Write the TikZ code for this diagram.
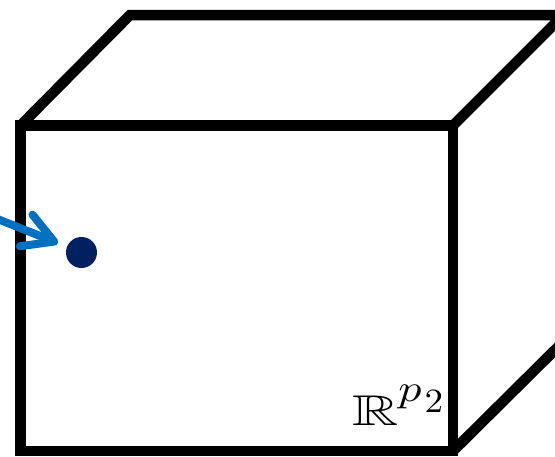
\documentclass[tikz,border=0pt]{standalone}
\usepackage{amssymb}
\usepackage{graphicx}
\usetikzlibrary{arrows.meta}
\definecolor{arrowblue}{HTML}{0070C0}
\definecolor{dotnavy}{HTML}{002060}
\begin{document}
\begin{tikzpicture}[x=1pt,y=-1pt,
  edge/.style={line width=10.5pt, line join=miter, black},
  pointer/.style={line width=8pt, arrowblue, line cap=round,
    -{Straight Barb[length=30pt, width=34pt, round]}, shorten >=10pt},
  datadot/.style={circle, fill=dotnavy, minimum size=31pt, inner sep=0pt, outer sep=0pt}]
\useasboundingbox (0,0) rectangle (555,456);
\clip (0,0) rectangle (555,456);
% cube
\coordinate (fl) at (20.5,125.5);
\coordinate (fr) at (453,125.5);
\coordinate (bl) at (20.5,451);
\coordinate (br) at (453,451);
\coordinate (tl) at (130,15);
\coordinate (tr) at (563.5,15);
\coordinate (rb) at (563.5,341.5);
\draw[edge] (fl) rectangle (br);
\draw[edge] (fl) -- (tl) -- (tr) -- (fr);
\draw[edge] (br) -- (rb);
% point and arrow
\node[datadot] (pt) at (81.5,252.5) {};
\coordinate (src) at (-20,212);
\draw[pointer] (src) -- (pt);
% label
\node[anchor=base west, inner sep=0pt] (lab) at (352,425)
  {\normalsize\scalebox{6.4}[4.3]{$\mathbb{R}$}\kern0pt\raisebox{24pt}{\scalebox{4.6}[3.8]{$p$}}\kern3pt\raisebox{13pt}{\scalebox{3.7}[3.4]{$2$}}};
\end{tikzpicture}
\end{document}
